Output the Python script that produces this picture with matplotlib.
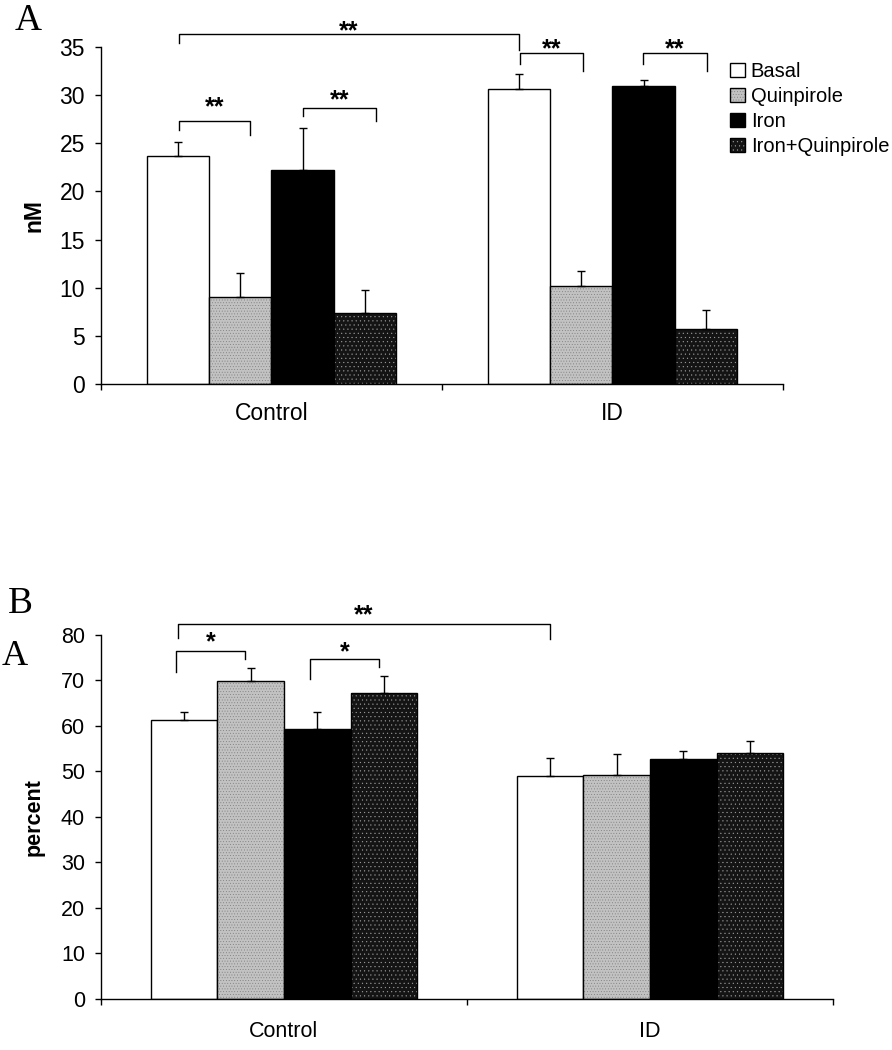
import matplotlib
matplotlib.use('Agg')
import matplotlib.pyplot as plt
from matplotlib.patches import Patch
import numpy as np

plt.rcParams['font.family'] = ['Liberation Sans', 'DejaVu Sans']
plt.rcParams['hatch.linewidth'] = 0.3

# data
groups = ['Control', 'ID']
treatments = ['Basal', 'Quinpirole', 'Iron', 'Iron+Quinpirole']

nm_control = [23.65, 9.0, 22.25, 7.4]
nm_control_err = [1.5, 2.5, 4.35, 2.4]
nm_id = [30.6, 10.2, 30.9, 5.75]
nm_id_err = [1.6, 1.55, 0.7, 1.9]

pct_control = [61.3, 69.9, 59.3, 67.3]
pct_control_err = [1.8, 2.8, 3.7, 3.7]
pct_id = [48.9, 49.2, 52.7, 54.1]
pct_id_err = [4.0, 4.6, 1.9, 2.5]

# significance brackets: x left, x right, line y, left leg end, right leg end, star y, text
brackets_a = [(0.229, 1.226, 36.3, 35.4, 34.7, 36.6, '**'),
              (0.229, 0.437, 27.3, 26.4, 25.9, 28.7, '**'),
              (0.592, 0.806, 28.7, 27.8, 27.3, 29.45, '**'),
              (1.229, 1.413, 34.4, 33.2, 32.5, 34.8, '**'),
              (1.589, 1.777, 34.4, 33.2, 32.5, 34.8, '**')]
brackets_b = [(0.210, 1.227, 82.3, 79.3, 79.0, 84.4, '**'),
              (0.205, 0.393, 76.5, 71.9, 74.7, 78.4, '*'),
              (0.571, 0.760, 74.7, 70.3, 72.9, 76.2, '*')]

# bar styles: facecolor, hatch, hatch colour
styles = [('white', None, None),
          ('#c2c2c2', '......', '#7a7a7a'),
          ('black', None, None),
          ('#141414', '....', '#a0a0a0')]
width = 0.182


def draw_bars(ax, means, errs):
    for j in range(len(treatments)):
        xs = np.arange(len(groups)) + 0.5 + (j - 1.5) * width
        ys = [m[j] for m in means]
        es = [e[j] for e in errs]
        fc, hatch, hc = styles[j]
        if hatch:
            ax.bar(xs, ys, width, color=fc, edgecolor=hc, hatch=hatch, linewidth=0, zorder=2)
            ax.bar(xs, ys, width, fill=False, edgecolor='black', linewidth=1, zorder=3)
        else:
            ax.bar(xs, ys, width, color=fc, edgecolor='black', linewidth=1, zorder=2)
        ax.errorbar(xs, ys, yerr=[np.zeros(len(es)), es], fmt='none', ecolor='black',
                    elinewidth=1, capsize=3, capthick=1, zorder=4)


def draw_brackets(ax, brackets, fs):
    for x0, x1, y, yl, yr, ys, txt in brackets:
        ax.plot([x0, x0, x1, x1], [yl, y, y, yr], color='black', lw=1, clip_on=False, zorder=5)
        ax.text((x0 + x1) / 2, ys, txt, ha='center', va='center', fontsize=fs,
                fontweight='bold', clip_on=False)


def style_axes(ax, top, step, ylabel, fs, labpad):
    ax.set_xlim(0, len(groups))
    ax.set_ylim(0, top)
    ax.set_yticks(np.arange(0, top + 1, step))
    ax.set_xticks(np.arange(len(groups) + 1))
    ax.set_xticklabels([])
    ax.set_xticks(np.arange(len(groups)) + 0.5, minor=True)
    ax.set_xticklabels(groups, minor=True, fontsize=fs)
    ax.tick_params(axis='x', which='minor', length=0, pad=labpad)
    ax.tick_params(axis='x', which='major', length=4.5, width=1)
    ax.tick_params(axis='y', length=4.5, width=1, labelsize=fs, pad=7)
    for s in ['top', 'right']:
        ax.spines[s].set_visible(False)
    for s in ['left', 'bottom']:
        ax.spines[s].set_linewidth(1)
    ax.set_ylabel(ylabel, fontsize=fs, fontweight='bold')


fig = plt.figure(figsize=(8.92, 10.5), dpi=100)
axa = fig.add_axes([0.1132, 0.6343, 0.7646, 0.3210])
axb = fig.add_axes([0.1132, 0.0486, 0.8206, 0.3467])

draw_bars(axa, [nm_control, nm_id], [nm_control_err, nm_id_err])
draw_brackets(axa, brackets_a, 18)
style_axes(axa, 35, 5, 'nM', 16.5, 13)
axa.yaxis.set_label_coords(-0.082, 0.5)

draw_bars(axb, [pct_control, pct_id], [pct_control_err, pct_id_err])
draw_brackets(axb, brackets_b, 18)
style_axes(axb, 80, 10, 'percent', 15.5, 16)
axb.yaxis.set_label_coords(-0.077, 0.5)

# legend with overlaid hatch + outline patches
handles = []
for fc, hatch, hc in styles:
    if hatch:
        handles.append((Patch(facecolor=fc, edgecolor=hc, hatch=hatch, linewidth=0),
                        Patch(fill=False, edgecolor='black', linewidth=1)))
    else:
        handles.append(Patch(facecolor=fc, edgecolor='black', linewidth=1))
fig.legend(handles, treatments, loc='upper left', bbox_to_anchor=(0.818, 0.941),
           frameon=False, fontsize=14.5, handlelength=0.75, handleheight=0.75,
           handletextpad=0.3, labelspacing=0.3, borderpad=0, borderaxespad=0)

# panel letters
fig.text(0.0168, 0.9714, 'A', fontsize=27, family='Liberation Serif')
fig.text(0.009, 0.4162, 'B', fontsize=27, family='Liberation Serif')
fig.text(0.002, 0.3667, 'A', fontsize=26, family='Liberation Serif')

fig.savefig('out.png', dpi=100)
